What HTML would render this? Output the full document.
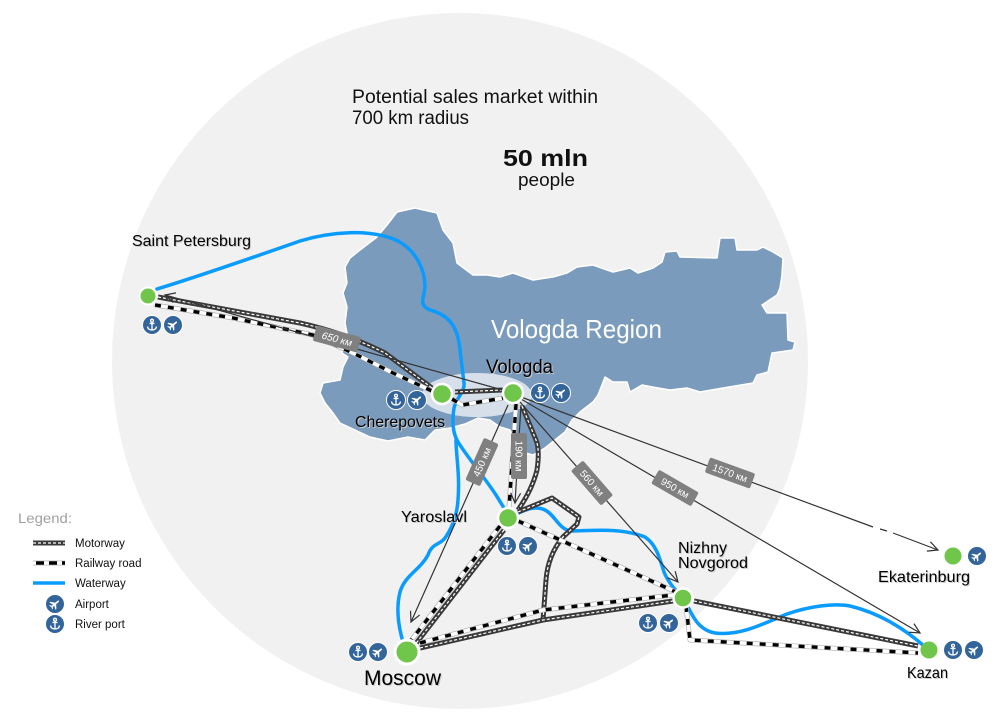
<!DOCTYPE html>
<html><head><meta charset="utf-8">
<style>
html,body{margin:0;padding:0;background:#fff;}
svg{display:block;font-family:"Liberation Sans",sans-serif;}
.mw1{stroke:#3a3a3a;stroke-width:5;fill:none;stroke-linejoin:round}
.mw2{stroke:#fff;stroke-width:1.2;stroke-dasharray:3 2;fill:none;stroke-linejoin:round}
.rw0{stroke:#a8a8a8;stroke-width:4.8;fill:none;stroke-linejoin:round}
.rw1{stroke:#fff;stroke-width:3.6;fill:none;stroke-linejoin:round}
.rw2{stroke:#000;stroke-width:3.4;stroke-dasharray:6 7;fill:none;stroke-linejoin:round}
.ww{stroke:#0a9bff;stroke-width:3.5;fill:none;stroke-linecap:round;stroke-linejoin:round}
.th{stroke:#333;stroke-width:1.2;fill:none}
.lbl{fill:#000}
.sh{fill:#cacaca}
.dt{fill:#fff;font-size:10px;text-anchor:middle}
</style></head><body>
<svg width="999" height="719" viewBox="0 0 999 719" xmlns="http://www.w3.org/2000/svg">
<defs>
  <marker id="ar" markerWidth="14" markerHeight="14" refX="11" refY="6" orient="auto" markerUnits="userSpaceOnUse">
    <path d="M1,1 L11,6 L1,11" fill="none" stroke="#333" stroke-width="1.2"/>
  </marker>
  <g id="plane">
    <circle r="9.5" fill="#33659a" stroke="#fff" stroke-width="1"/>
    <path transform="rotate(-40) scale(0.85)" fill="#fff" d="M6,0 C6,-0.9 5,-1 4,-1 L1,-1 L-2.5,-5.5 L-4,-5.5 L-2,-1 L-4.2,-1 L-5.5,-2.8 L-6.5,-2.8 L-5.6,0 L-6.5,2.8 L-5.5,2.8 L-4.2,1 L-2,1 L-4,5.5 L-2.5,5.5 L1,1 L4,1 C5,1 6,0.9 6,0 Z"/>
  </g>
  <g id="anchor">
    <circle r="9.5" fill="#33659a" stroke="#fff" stroke-width="1"/>
    <g stroke="#fff" stroke-width="1.3" fill="none">
      <circle cx="0" cy="-4.3" r="1.4"/>
      <path d="M0,-2.9 V5 M-2.5,-1.5 H2.5 M-4.5,1.5 Q-4,5 0,5 Q4,5 4.5,1.5"/>
    </g>
  </g>
  <path id="m1" d="M158,297 L300,323 Q345,333 385,353 L432,388"/>
  <path id="m2" d="M455,392 L503,390"/>
  <path id="m3" d="M522,406 L536,440 Q540,450 537,470 Q532,490 518,510"/>
  <path id="m4" d="M518,512 L552,498 L579,517 L577,524 L563,537 Q548,555 546,580 L543,620"/>
  <path id="m5" d="M504,530 L414,646"/>
  <path id="m6" d="M420,648 L543,620 L673,601"/>
  <path id="m7" d="M694,601 L918,646"/>
  <path id="r1" d="M155,305 L233,318 L313,335 L353,353 L393,373 L432,391"/>
  <path id="r2" d="M452,399 L462,405 L503,398"/>
  <path id="r3" d="M516,404 L509,508"/>
  <path id="r4" d="M518,521 L676,592"/>
  <path id="r5" d="M500,526 L409,643"/>
  <path id="r6" d="M420,643 L543,610 L673,595"/>
  <path id="r7" d="M686,606 L690,640 L918,653"/>
</defs>

<circle cx="460" cy="361" r="348" fill="#f1f1f1"/>

<path fill="#7b9bbd" stroke="#fff" stroke-width="1.5" stroke-linejoin="round" d="M397,212 L415,208 L437,213 L443,230 L453,243 L457,263 L473,275 L487,275 L500,277 L513,273 L533,280 L553,277 L567,273 L577,267 L593,265 L613,272 L630,268 L638,273 L653,268 L662,262 L665,252 L677,251 L680,257 L717,258 L720,238 L735,238 L737,250 L757,250 L763,247 L773,252 L783,258 L782,275 L780,288 L777,295 L762,305 L767,313 L787,313 L788,340 L795,342 L793,350 L772,353 L768,372 L757,375 L753,383 L723,388 L700,392 L687,388 L670,390 L658,388 L642,385 L630,392 L627,382 L613,382 L605,377 L602,385 L598,395 L593,402 L580,412 L572,420 L565,432 L555,440 L545,448 L533,455 L522,452 L515,440 L510,430 L500,427 L490,420 L478,418 L465,424 L450,428 L435,430 L425,440 L408,437 L388,441 L370,437 L355,430 L340,423 L333,413 L325,403 L320,393 L323,383 L340,380 L343,367 L348,357 L342,353 L347,333 L345,323 L347,307 L343,293 L347,283 L345,267 L350,258 L360,250 L377,237 L387,225 Z"/>

<ellipse cx="477" cy="395" rx="55" ry="22" fill="#d7e0ea"/>

<text x="491" y="338" font-size="26" fill="#fff" textLength="171" lengthAdjust="spacingAndGlyphs">Vologda Region</text>

<path class="ww" d="M157,289 C200,276 260,255 300,241 C330,232 370,228 398,241 C418,252 425,272 425,287 C424,298 418,305 430,310 C452,316 458,330 460,350 L464,383 C465,392 456,398 454,408 C452,420 452,432 458,442 C468,458 485,478 496,495 C501,503 505,510 508,514"/>
<path class="ww" d="M456,440 C456,455 460,475 458,500 C457,515 452,528 445,538 C440,545 432,543 428,555 C420,570 405,575 400,592 C396,608 398,625 403,642"/>
<path class="ww" d="M514,515 C525,510 535,505 545,510 C555,515 558,528 570,531 C590,531 620,527 645,537 C657,545 660,560 664,572 C668,582 675,590 682,597"/>
<path class="ww" d="M686,603 C692,615 698,630 715,633 C740,636 760,625 787,614 C810,606 835,603 850,606 C875,612 900,625 924,646"/>

<g>
<use href="#m1" class="mw1"/><use href="#m1" class="mw2"/>
<use href="#m2" class="mw1"/><use href="#m2" class="mw2"/>
<use href="#m3" class="mw1"/><use href="#m3" class="mw2"/>
<use href="#m4" class="mw1"/><use href="#m4" class="mw2"/>
<use href="#m5" class="mw1"/><use href="#m5" class="mw2"/>
<use href="#m6" class="mw1"/><use href="#m6" class="mw2"/>
<use href="#m7" class="mw1"/><use href="#m7" class="mw2"/>
</g>
<g>
<use href="#r1" class="rw0"/><use href="#r1" class="rw1"/><use href="#r1" class="rw2"/>
<use href="#r2" class="rw0"/><use href="#r2" class="rw1"/><use href="#r2" class="rw2"/>
<use href="#r3" class="rw0"/><use href="#r3" class="rw1"/><use href="#r3" class="rw2"/>
<use href="#r4" class="rw0"/><use href="#r4" class="rw1"/><use href="#r4" class="rw2"/>
<use href="#r5" class="rw0"/><use href="#r5" class="rw1"/><use href="#r5" class="rw2"/>
<use href="#r6" class="rw0"/><use href="#r6" class="rw1"/><use href="#r6" class="rw2"/>
<use href="#r7" class="rw0"/><use href="#r7" class="rw1"/><use href="#r7" class="rw2"/>
</g>

<path class="th" d="M506,391 L165,295" marker-end="url(#ar)"/>
<path class="th" d="M508,405 L411,622" marker-end="url(#ar)"/>
<path class="th" d="M521,405 L515,503" marker-end="url(#ar)"/>
<path class="th" d="M520,402 L678,582" marker-end="url(#ar)"/>
<path class="th" d="M521,399 L920,633" marker-end="url(#ar)"/>
<path class="th" d="M521,397 L873,527"/>
<path class="th" d="M880,529 L887,531"/>
<path class="th" d="M893,533 L938,550" marker-end="url(#ar)"/>

<g transform="translate(337,339) rotate(15)"><rect x="-23" y="-8" width="46" height="16" rx="2" fill="#808080"/><text class="dt" x="0" y="3.5" font-style="italic">650 км</text></g>
<g transform="translate(482,462) rotate(-66)"><rect x="-23" y="-8" width="46" height="16" rx="2" fill="#808080"/><text class="dt" x="0" y="3.5">450 км</text></g>
<g transform="translate(519,456) rotate(90)"><rect x="-23" y="-8" width="46" height="16" rx="2" fill="#808080"/><text class="dt" x="0" y="3.5">190 км</text></g>
<g transform="translate(592,483) rotate(49)"><rect x="-23" y="-8" width="46" height="16" rx="2" fill="#808080"/><text class="dt" x="0" y="3.5">560 км</text></g>
<g transform="translate(675,488) rotate(30)"><rect x="-23" y="-8" width="46" height="16" rx="2" fill="#808080"/><text class="dt" x="0" y="3.5">950 км</text></g>
<g transform="translate(730,473) rotate(20)"><rect x="-24" y="-8" width="48" height="16" rx="2" fill="#808080"/><text class="dt" x="0" y="3.5">1570 км</text></g>

<g fill="#70c64a" stroke="#fff">
<circle cx="148" cy="296" r="8.5" stroke-width="2"/>
<circle cx="442" cy="394" r="10" stroke-width="2.5"/>
<circle cx="513" cy="393" r="10" stroke-width="2.5"/>
<circle cx="508" cy="518" r="10" stroke-width="2.5"/>
<circle cx="407" cy="652" r="12" stroke-width="3"/>
<circle cx="683" cy="598" r="9.5" stroke-width="2.5"/>
<circle cx="953" cy="556" r="8.5" stroke-width="0"/>
<circle cx="929" cy="650" r="8.5" stroke-width="0"/>
</g>

<use href="#anchor" x="152" y="325"/><use href="#plane" x="173" y="325"/>
<use href="#anchor" x="396" y="400"/><use href="#plane" x="417" y="400"/>
<use href="#anchor" x="540" y="393"/><use href="#plane" x="561" y="393"/>
<use href="#anchor" x="507" y="546"/><use href="#plane" x="528" y="546"/>
<use href="#anchor" x="358" y="652"/><use href="#plane" x="378" y="652"/>
<use href="#anchor" x="648" y="623"/><use href="#plane" x="669" y="623"/>
<use href="#plane" x="977" y="556"/>
<use href="#anchor" x="953" y="650"/><use href="#plane" x="974" y="650"/>

<g font-size="16" lengthAdjust="spacingAndGlyphs">
<text class="sh" x="133" y="247" textLength="119" lengthAdjust="spacingAndGlyphs">Saint Petersburg</text>
<text class="lbl" x="132" y="246" textLength="119" lengthAdjust="spacingAndGlyphs">Saint Petersburg</text>
<text class="sh" x="356" y="428" textLength="90" lengthAdjust="spacingAndGlyphs">Cherepovets</text>
<text class="lbl" x="355" y="427" textLength="90" lengthAdjust="spacingAndGlyphs">Cherepovets</text>
<text class="sh" x="487" y="374" font-size="19" textLength="67" lengthAdjust="spacingAndGlyphs">Vologda</text>
<text class="lbl" x="486" y="373" font-size="19" textLength="67" lengthAdjust="spacingAndGlyphs">Vologda</text>
<text class="sh" x="402" y="523" textLength="66" lengthAdjust="spacingAndGlyphs">Yaroslavl</text>
<text class="lbl" x="401" y="522" textLength="66" lengthAdjust="spacingAndGlyphs">Yaroslavl</text>
<text class="sh" x="365" y="686" font-size="21" textLength="77" lengthAdjust="spacingAndGlyphs">Moscow</text>
<text class="lbl" x="364" y="685" font-size="21" textLength="77" lengthAdjust="spacingAndGlyphs">Moscow</text>
<text class="sh" x="679" y="554" textLength="49" lengthAdjust="spacingAndGlyphs">Nizhny</text>
<text class="lbl" x="678" y="553" textLength="49" lengthAdjust="spacingAndGlyphs">Nizhny</text>
<text class="sh" x="679" y="569" textLength="70" lengthAdjust="spacingAndGlyphs">Novgorod</text>
<text class="lbl" x="678" y="568" textLength="70" lengthAdjust="spacingAndGlyphs">Novgorod</text>
<text class="sh" x="879" y="583" textLength="92" lengthAdjust="spacingAndGlyphs">Ekaterinburg</text>
<text class="lbl" x="878" y="582" textLength="92" lengthAdjust="spacingAndGlyphs">Ekaterinburg</text>
<text class="sh" x="908" y="679" textLength="41" lengthAdjust="spacingAndGlyphs">Kazan</text>
<text class="lbl" x="907" y="678" textLength="41" lengthAdjust="spacingAndGlyphs">Kazan</text>
</g>

<text x="352" y="103" font-size="19" fill="#111" textLength="246" lengthAdjust="spacingAndGlyphs">Potential sales market within</text>
<text x="352" y="124" font-size="19" fill="#111" textLength="117" lengthAdjust="spacingAndGlyphs">700 km radius</text>
<text x="503" y="166" font-size="23" font-weight="bold" fill="#111" textLength="85" lengthAdjust="spacingAndGlyphs">50 mln</text>
<text x="518" y="186" font-size="18" fill="#111" textLength="57" lengthAdjust="spacingAndGlyphs">people</text>

<text x="18" y="523" font-size="14" fill="#a0a0a0" textLength="54" lengthAdjust="spacingAndGlyphs">Legend:</text>
<path class="mw1" d="M33,543 H65"/><path class="mw2" d="M33,543 H65"/>
<path class="rw0" d="M33,563 H65"/><path class="rw1" d="M33,563 H65"/><path class="rw2" d="M36,563 H65" style="stroke-dasharray:8 5"/>
<path d="M33,583 H65" stroke="#0a9bff" stroke-width="3.5"/>
<use href="#plane" x="55" y="604"/>
<use href="#anchor" x="55" y="624"/>
<g font-size="11.5" fill="#111">
<text x="75" y="547">Motorway</text>
<text x="75" y="567">Railway road</text>
<text x="75" y="587">Waterway</text>
<text x="75" y="608">Airport</text>
<text x="75" y="628">River port</text>
</g>
</svg>
</body></html>
